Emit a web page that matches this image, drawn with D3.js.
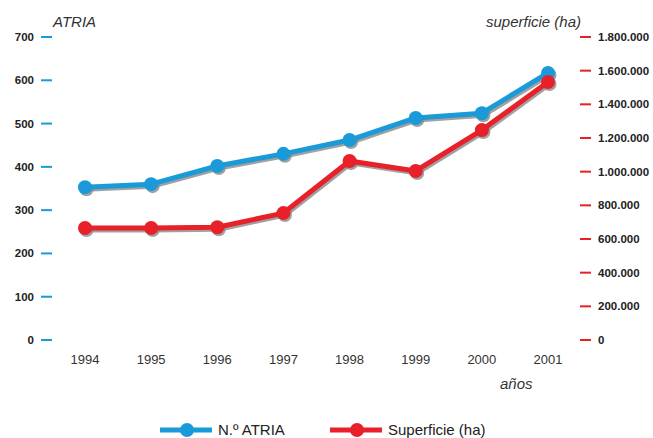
<!DOCTYPE html>
<html>
<head>
<meta charset="utf-8">
<script src="https://cdn.jsdelivr.net/npm/d3@7"></script>
<style>
  body { margin: 0; background: #fff; }
  text { font-family: "Liberation Sans", Arial, sans-serif; }
</style>
</head>
<body>
<div id="chart"></div>
<script>
// values
var years = ['1994', '1995', '1996', '1997', '1998', '1999', '2000', '2001'];
var atria = [353, 360, 402, 430, 462, 513, 524, 617];
var superficie = [665000, 665000, 670000, 754000, 1063000, 1004000, 1247000, 1533000];
var leftTicks = [0, 100, 200, 300, 400, 500, 600, 700];
var rightTicks = [0, 200000, 400000, 600000, 800000, 1000000, 1200000, 1400000, 1600000, 1800000];

var width = 653, height = 438;
var blue = '#1a9ad8', red = '#e8202a', shadow = '#8a8a8a';

var svg = d3.select('#chart').append('svg')
  .attr('width', width)
  .attr('height', height);

// x positions of the years
var x = d3.scalePoint()
  .domain(years)
  .range([85, 548]);

var yL = d3.scaleLinear().domain([0, 700]).range([340, 37]);
var yR = d3.scaleLinear().domain([0, 1800000]).range([340, 37]);

// thousands with dots
var fmt = function(d) {
  return d3.format(',')(d).replace(/,/g, '.');
};

// left axis: short blue dashes
var gl = svg.append('g');
gl.selectAll('line').data(leftTicks).join('line')
  .attr('x1', 41).attr('x2', 52)
  .attr('y1', d => yL(d)).attr('y2', d => yL(d))
  .attr('stroke', blue).attr('stroke-width', 2);
gl.selectAll('text').data(leftTicks).join('text')
  .attr('x', 34).attr('y', d => yL(d))
  .attr('dy', '0.35em')
  .attr('text-anchor', 'end')
  .attr('font-size', '11.5px').attr('font-weight', 'bold').attr('fill', '#222')
  .text(d => d);

// right axis: short red dashes
var gr = svg.append('g');
gr.selectAll('line').data(rightTicks).join('line')
  .attr('x1', 580).attr('x2', 591)
  .attr('y1', d => yR(d)).attr('y2', d => yR(d))
  .attr('stroke', red).attr('stroke-width', 2);
gr.selectAll('text').data(rightTicks).join('text')
  .attr('x', 598).attr('y', d => yR(d))
  .attr('dy', '0.35em')
  .attr('font-size', '11.5px').attr('font-weight', 'bold').attr('fill', '#222')
  .text(d => fmt(d));

// years under the plot
svg.append('g').selectAll('text').data(years).join('text')
  .attr('x', d => x(d)).attr('y', 364)
  .attr('text-anchor', 'middle')
  .attr('font-size', '13px').attr('fill', '#333')
  .text(d => d);

// axis titles
svg.append('text').attr('x', 53).attr('y', 27)
  .attr('font-size', '15px').attr('font-style', 'italic').attr('fill', '#333')
  .text('ATRIA');
svg.append('text').attr('x', 581).attr('y', 27)
  .attr('text-anchor', 'end')
  .attr('font-size', '15px').attr('font-style', 'italic').attr('fill', '#333')
  .text('superficie (ha)');
svg.append('text').attr('x', 500).attr('y', 389)
  .attr('font-size', '15px').attr('font-style', 'italic').attr('fill', '#333')
  .text('años');

function drawSeries(values, y, color) {
  var pts = values.map((v, i) => [x(years[i]), y(v)]);
  var line = d3.line();
  var g = svg.append('g');
  // gray drop shadow
  g.append('path').attr('d', line(pts.map(p => [p[0] + 1.5, p[1] + 2])))
    .attr('fill', 'none').attr('stroke', shadow).attr('stroke-width', 5)
    .attr('stroke-linejoin', 'round').attr('opacity', 0.8);
  g.selectAll('circle.s').data(pts).join('circle')
    .attr('class', 's')
    .attr('cx', d => d[0] + 1.5).attr('cy', d => d[1] + 2).attr('r', 7)
    .attr('fill', shadow).attr('opacity', 0.8);
  g.append('path').attr('d', line(pts))
    .attr('fill', 'none').attr('stroke', color).attr('stroke-width', 5)
    .attr('stroke-linejoin', 'round');
  g.selectAll('circle.m').data(pts).join('circle')
    .attr('class', 'm')
    .attr('cx', d => d[0]).attr('cy', d => d[1]).attr('r', 7)
    .attr('fill', color);
}

drawSeries(atria, yL, blue);
drawSeries(superficie, yR, red);

// legend
var legend = [
  { name: 'N.º ATRIA', color: blue, x: 160 },
  { name: 'Superficie (ha)', color: red, x: 330 }
];
var lg = svg.append('g').selectAll('g').data(legend).join('g')
  .attr('transform', d => `translate(${d.x}, 430)`);
lg.append('line').attr('x1', 0).attr('x2', 52)
  .attr('stroke', d => d.color).attr('stroke-width', 5);
lg.append('circle').attr('cx', 27).attr('r', 7).attr('fill', d => d.color);
lg.append('text').attr('x', 58).attr('dy', '0.35em')
  .attr('font-size', '15px').attr('fill', '#222')
  .text(d => d.name);
</script>
</body>
</html>
